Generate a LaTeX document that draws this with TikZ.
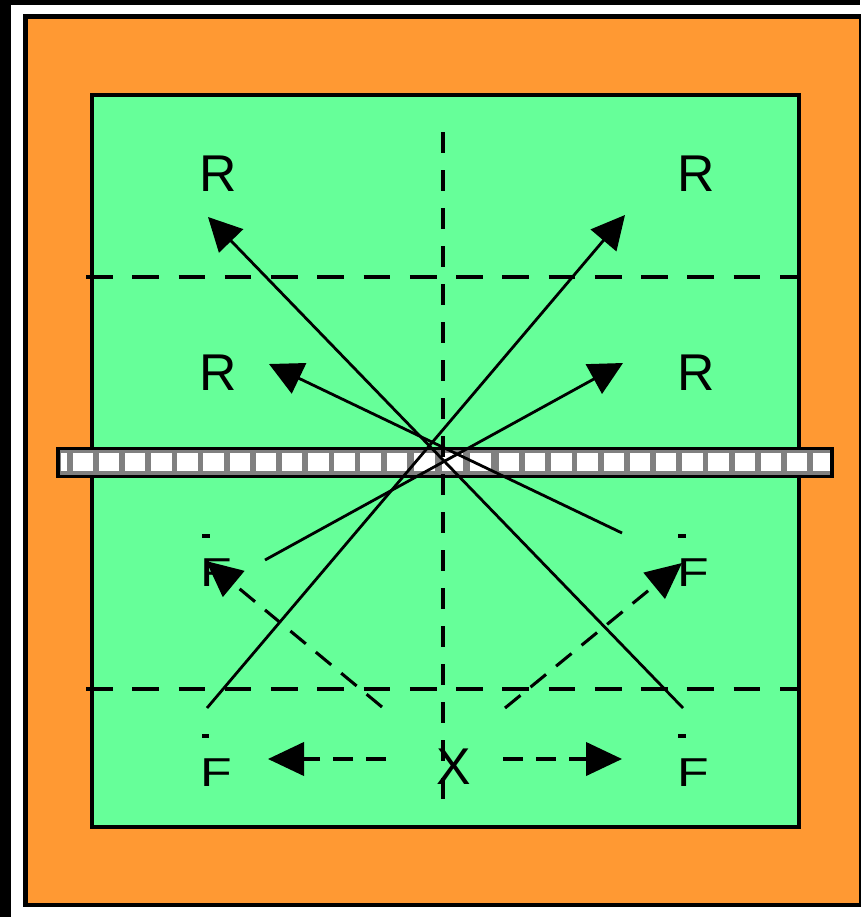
\documentclass[tikz,border=0pt]{standalone}
\usepackage{fontspec}
\setmainfont{Liberation Sans}
\usetikzlibrary{arrows.meta}
\definecolor{courtorange}{RGB}{255,153,51}
\definecolor{courtgreen}{RGB}{102,255,153}
\definecolor{bargray}{RGB}{128,128,128}
\begin{document}
\begin{tikzpicture}[x=0.75pt,y=-0.75pt,
  lbl/.style={font=\fontsize{38.8}{40}\selectfont, inner sep=0pt, anchor=center, text=black},
  gridline/.style={line width=2.6pt, dash pattern=on 20pt off 14.7pt},
  vgridline/.style={line width=2.9pt, dash pattern=on 15.75pt off 12.75pt},
  solidarrow/.style={line width=2.1pt, -{Triangle[length=25pt,width=25pt]}},
  dasharrow/.style={line width=2.3pt, dash pattern=on 15pt off 9.75pt, -{Triangle[length=27pt,width=25pt]}},
  tick/.style={line width=2.3pt}
]
\useasboundingbox (0,0) rectangle (860,917);
% background
\fill[black] (0,0) rectangle (860,917);
\fill[white] (11,5) rectangle (860,917);
% orange surround
\filldraw[fill=courtorange, draw=black, line width=3.2pt] (25.5,16.5) rectangle (861,905);
% green court
\filldraw[fill=courtgreen, draw=black, line width=3pt] (92,95.5) rectangle (798.5,827);
% bar
\fill[bargray] (58,448.5) rectangle (832,476.5);
\begin{scope}
  \clip (59.8,450.3) rectangle (830.2,474.7);
  \fill[white] (61,453) rectangle (67,471);
  \foreach \k in {0,...,12} \fill[white] ({72.6+26.17*\k},453) rectangle +(20.5,18);
  \foreach \x in {414,442,470} \fill[white] (\x,453) rectangle +(21,18);
  \foreach \k in {0,...,12} \fill[white] ({498.7+26.2*\k},453) rectangle +(20.5,18);
\end{scope}
\draw[line width=2.6pt] (58,448.5) rectangle (832,476.5);
% dashed grid lines
\coordinate (gTL) at (86,277);  \coordinate (gTR) at (797,277);
\coordinate (gBL) at (86,689);  \coordinate (gBR) at (797,689);
\coordinate (gVT) at (443,132); \coordinate (gVB) at (443,807);
\draw[gridline] (gTL) -- (gTR);
\draw[gridline] (gBL) -- (gBR);
\draw[vgridline] (gVT) -- (gVB);
% solid arrows
\coordinate (sA1) at (207,708); \coordinate (sA2) at (625,215);
\coordinate (sB1) at (683,708); \coordinate (sB2) at (208,217);
\coordinate (sC1) at (265,560); \coordinate (sC2) at (623,363);
\coordinate (sD1) at (622,533); \coordinate (sD2) at (269,364);
\draw[solidarrow] (sA1) -- (sA2);
\draw[solidarrow] (sB1) -- (sB2);
\draw[solidarrow] (sC1) -- (sC2);
\draw[solidarrow] (sD1) -- (sD2);
% dashed arrows
\coordinate (dL1) at (382,707); \coordinate (dL2) at (206,561);
\coordinate (dR1) at (505,708); \coordinate (dR2) at (682,563);
\coordinate (hL1) at (386,759); \coordinate (hL2) at (268,759);
\coordinate (hR1) at (503,759); \coordinate (hR2) at (622,759);
\draw[dasharrow] (dL1) -- (dL2);
\draw[dasharrow] (dR1) -- (dR2);
\draw[dasharrow] (hL1) -- (hL2);
\draw[dasharrow] (hR1) -- (hR2);
% small ticks
\draw[tick] (202,536) -- (210,536);
\draw[tick] (202,736) -- (209,736);
\draw[tick] (678,536) -- (686,536);
\draw[tick] (678,736) -- (686,736);
% labels
\node[lbl] (rtl) at (218,174) {R};
\node[lbl] (rtr) at (696,174) {R};
\node[lbl] (rml) at (218,373) {R};
\node[lbl] (rmr) at (696,373) {R};
\node[lbl] (fml) at (216,573) {\scalebox{1}[0.78]{F}};
\node[lbl] (fmr) at (693,573) {\scalebox{1}[0.78]{F}};
\node[lbl] (fbl) at (216,773) {\scalebox{1}[0.78]{F}};
\node[lbl] (fbr) at (693,773) {\scalebox{1}[0.78]{F}};
\node[lbl] (xc) at (454,767) {X};
\end{tikzpicture}
\end{document}
